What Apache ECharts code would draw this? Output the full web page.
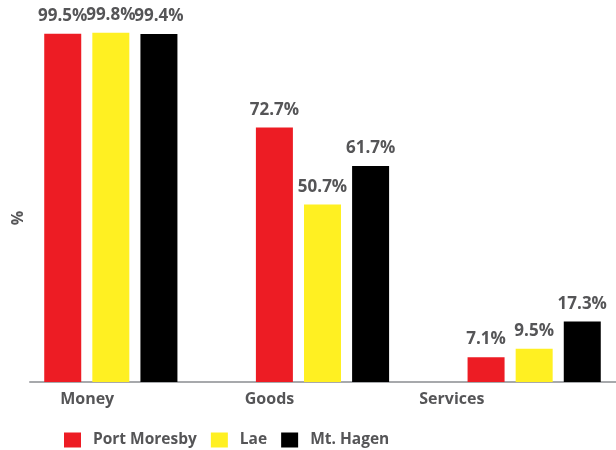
<!DOCTYPE html>
<html>
<head>
<meta charset="utf-8">
<script src="https://cdn.jsdelivr.net/npm/echarts@6/dist/echarts.min.js"></script>
<style>
  html, body { margin: 0; padding: 0; background: #fff; }
  #chart { width: 616px; height: 450px; }
</style>
</head>
<body>
<div id="chart"></div>
<script>
var categories = ["Money", "Goods", "Services"];
var portMoresby = [99.5, 72.7, 7.1];
var lae = [99.8, 50.7, 9.5];
var mtHagen = [99.4, 61.7, 17.3];

var textColor = "#555557";
var fontFamily = "Open Sans";

var chart = echarts.init(document.getElementById("chart"));

function barSeries(name, data, color) {
  return {
    name: name,
    type: "bar",
    xAxisIndex: 0,
    yAxisIndex: 0,
    data: data,
    barWidth: 37,
    barGap: "30%",
    itemStyle: { color: color },
    label: {
      show: true,
      position: "top",
      distance: 9,
      formatter: "{c}%",
      color: textColor,
      fontFamily: fontFamily,
      fontWeight: "bold",
      fontSize: 17
    }
  };
}

var option = {
  animation: false,
  grid: [
    // bars (runs a bit past the right edge like the original)
    { left: 5, width: 635, top: 32, bottom: 68, outerBoundsMode: "none" },
    // axis line + y name
    { left: 30, right: 0, top: 32, bottom: 68, outerBoundsMode: "none" },
    // category labels
    { left: -4, width: 547, top: 32, bottom: 68, outerBoundsMode: "none" }
  ],
  legend: {
    left: 59,
    top: 427,
    itemWidth: 17,
    itemHeight: 15,
    itemGap: 14,
    icon: "rect",
    textStyle: {
      color: textColor,
      fontFamily: fontFamily,
      fontWeight: "bold",
      fontSize: 15.5,
      padding: [0, 0, 0, 7]
    },
    data: ["Port Moresby", "Lae", "Mt. Hagen"]
  },
  xAxis: [
    {
      gridIndex: 0,
      type: "category",
      data: categories,
      axisLine: { show: false },
      axisTick: { show: false },
      axisLabel: { show: false }
    },
    {
      gridIndex: 1,
      type: "category",
      data: categories,
      axisLine: { show: true, lineStyle: { color: "#a7a9ac", width: 2 } },
      axisTick: { show: false },
      axisLabel: { show: false }
    },
    {
      gridIndex: 2,
      type: "category",
      data: categories,
      axisLine: { show: false },
      axisTick: { show: false },
      axisLabel: {
        show: true,
        margin: 9,
        color: textColor,
        fontFamily: fontFamily,
        fontWeight: "bold",
        fontSize: 16
      }
    }
  ],
  yAxis: [
    {
      gridIndex: 0,
      type: "value",
      min: 0,
      max: 100,
      axisLine: { show: false },
      axisTick: { show: false },
      axisLabel: { show: false },
      splitLine: { show: false }
    },
    {
      gridIndex: 1,
      type: "value",
      min: 0,
      max: 100,
      name: "%",
      nameLocation: "middle",
      nameRotate: 90,
      nameGap: 4,
      nameTextStyle: {
        color: textColor,
        fontFamily: fontFamily,
        fontWeight: "bold",
        fontSize: 16,
        padding: [0, 22, 0, 0]
      },
      axisLine: { show: false },
      axisTick: { show: false },
      axisLabel: { show: false },
      splitLine: { show: false }
    },
    {
      gridIndex: 2,
      type: "value",
      show: false
    }
  ],
  series: [
    barSeries("Port Moresby", portMoresby, "#ed1c24"),
    barSeries("Lae", lae, "#fff022"),
    barSeries("Mt. Hagen", mtHagen, "#000000")
  ]
};

chart.setOption(option);
</script>
</body>
</html>
